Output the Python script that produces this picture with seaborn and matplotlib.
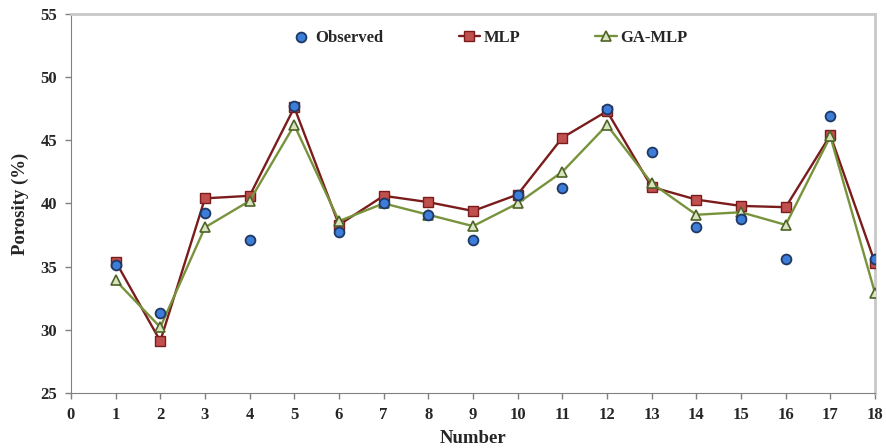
import pandas as pd
import numpy as np
import seaborn as sns
import matplotlib.pyplot as plt

# datos
numero = list(range(1, 19))
observado = [35.1, 31.3, 39.2, 37.1, 47.7, 37.7, 40.0, 39.1, 37.1,
             40.7, 41.2, 47.5, 44.1, 38.1, 38.8, 35.6, 46.9, 35.6]
mlp = [35.4, 29.1, 40.4, 40.6, 47.6, 38.3, 40.6, 40.1, 39.4,
       40.7, 45.2, 47.3, 41.3, 40.3, 39.8, 39.7, 45.4, 35.3]
ga_mlp = [33.9, 30.2, 38.1, 40.2, 46.2, 38.6, 40.0, 39.1, 38.2,
          40.0, 42.5, 46.2, 41.6, 39.1, 39.3, 38.3, 45.3, 32.9]

df = pd.DataFrame({"Number": numero, "Observed": observado,
                   "MLP": mlp, "GA-MLP": ga_mlp})

sns.set_style("white")
plt.rcParams['font.family'] = ['Liberation Serif', 'DejaVu Serif']
plt.rcParams['font.weight'] = 'bold'

fig = plt.figure(figsize=(8.87, 4.48), dpi=100)
ax = fig.add_axes([0.080, 0.123, 0.9065, 0.846])

sns.lineplot(data=df, x="Number", y="MLP", ax=ax, color="#7B1C1C", linewidth=1.7,
             marker="s", markersize=6.5, markerfacecolor="#C0504D",
             markeredgecolor="#7B1C1C", markeredgewidth=1.0, label="MLP", zorder=3)
sns.lineplot(data=df, x="Number", y="GA-MLP", ax=ax, color="#77933C", linewidth=1.7,
             marker="^", markersize=7.5, markerfacecolor="#D7E4BD",
             markeredgecolor="#4F6228", markeredgewidth=1.2, label="GA-MLP", zorder=3)
sns.scatterplot(data=df, x="Number", y="Observed", ax=ax, color="#3C7DD9",
                s=50, edgecolor="#1F3864", linewidth=1.3, label="Observed", zorder=4)

ax.set_xlim(0, 18)
ax.set_ylim(25, 55)
ax.set_xticks(range(0, 19))
ax.set_yticks(range(25, 56, 5))
ax.tick_params(axis='both', direction='out', length=4, width=1, color="#808080",
               labelsize=12, bottom=True, left=True)
ax.tick_params(axis='x', pad=6)
ax.tick_params(axis='y', pad=6)
for lab in ax.get_xticklabels() + ax.get_yticklabels():
    lab.set_fontweight('bold')

ax.set_xlabel("Number", fontsize=13.5, fontweight='bold', labelpad=5)
ax.set_ylabel("Porosity (%)", fontsize=13.5, fontweight='bold', labelpad=8)

ax.spines['left'].set_color("#808080")
ax.spines['bottom'].set_color("#808080")
ax.spines['top'].set_color("#C8C8C8")
ax.spines['right'].set_color("#C8C8C8")
ax.spines['top'].set_linewidth(2)
ax.spines['right'].set_linewidth(2)

handles, labels = ax.get_legend_handles_labels()
orden = [labels.index(k) for k in ["Observed", "MLP", "GA-MLP"]]
ax.legend([handles[i] for i in orden], [labels[i] for i in orden],
          loc="center", bbox_to_anchor=(0.52, 0.937), ncol=3, frameon=False,
          columnspacing=4.5, handlelength=1.3, handletextpad=0.2,
          prop={'weight': 'bold', 'size': 12})

fig.savefig("out.png", dpi=100)
